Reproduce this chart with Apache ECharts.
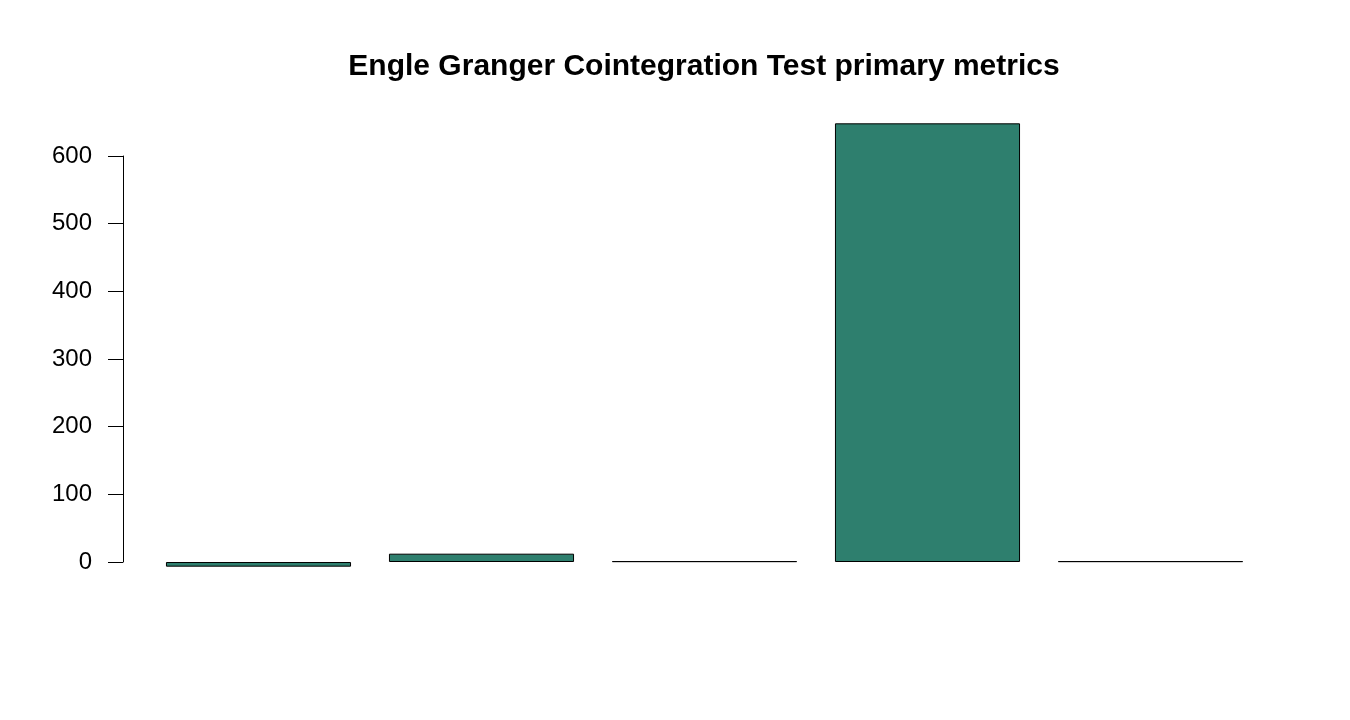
<!DOCTYPE html>
<html>
<head>
<meta charset="utf-8">
<script src="https://cdn.jsdelivr.net/npm/echarts@6/dist/echarts.min.js"></script>
<style>html,body{margin:0;padding:0;background:#fff}#chart{width:1350px;height:720px}</style>
</head>
<body>
<div id="chart"></div>
<script>
const titleText = "Engle Granger Cointegration Test primary metrics";
const categories = ["Metric 1", "Metric 2", "Metric 3", "Metric 4", "Metric 5"];
const values = [-6.9, 12.3, 1.2, 648.3, 1.2];
const axisTicks = [0, 100, 200, 300, 400, 500, 600];

const chart = echarts.init(document.getElementById('chart'));
const font = 'Liberation Sans, Arial, sans-serif';
chart.setOption({
  animation: false,
  backgroundColor: '#ffffff',
  title: {
    text: titleText, left: 699, top: 47, textAlign: 'center',
    textStyle: { fontFamily: font, fontWeight: 'bold', fontSize: 30, color: '#000' }
  },
  grid: [
    { left: 123, top: 156, width: 1115, height: 406 },
    { left: 147, top: 101.87, width: 1115, height: 487.2 }
  ],
  xAxis: [
    { type: 'category', gridIndex: 0, data: categories, show: false },
    { type: 'category', gridIndex: 1, data: categories, show: false }
  ],
  yAxis: [
    { type: 'value', gridIndex: 0, min: axisTicks[0], max: axisTicks[axisTicks.length - 1], interval: 100,
      axisLine: { show: true, lineStyle: { color: '#000', width: 1 } },
      axisTick: { show: true, length: 15, lineStyle: { color: '#000', width: 1 } },
      axisLabel: { margin: 31, fontSize: 24, fontFamily: font, color: '#000', padding: [8, 0, 0, 0] },
      splitLine: { show: false } },
    { type: 'value', gridIndex: 1, min: -40, max: 680, show: false, splitLine: { show: false } }
  ],
  series: [{
    type: 'bar', xAxisIndex: 1, yAxisIndex: 1, data: values,
    barCategoryGap: '17%',
    itemStyle: { color: '#2E7F6E', borderColor: '#000', borderWidth: 1 }
  }]
});
</script>
</body>
</html>
